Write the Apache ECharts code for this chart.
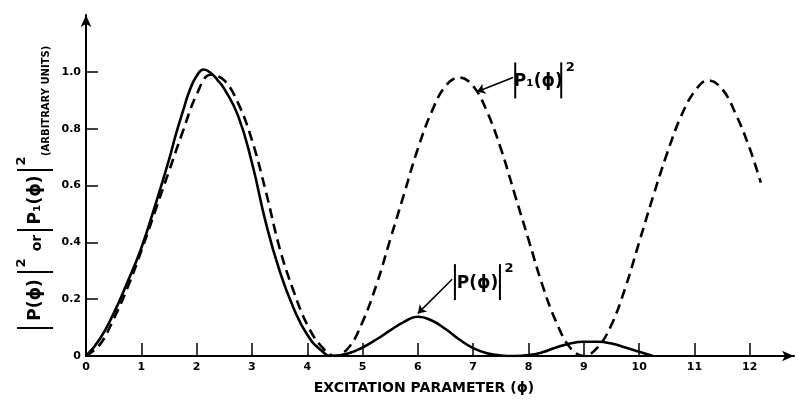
<!DOCTYPE html>
<html>
<head>
<meta charset="utf-8">
<title>Excitation parameter</title>
<script src="https://cdn.jsdelivr.net/npm/echarts@6/dist/echarts.min.js"></script>
<style>
  html, body { margin: 0; padding: 0; background: #fff; }
  #chart { width: 799px; height: 403px; }
</style>
</head>
<body>
<div id="chart"></div>
<script>
// |P(ϕ)|^2 — solid curve
var pPhi = [0, 0.25, 0.5, 0.75, 1.0, 1.25, 1.5, 1.625, 1.75, 1.875, 2.0, 2.125, 2.25, 2.375, 2.5, 2.75, 3.0, 3.25, 3.5, 3.75, 4.0, 4.25, 4.45,
            4.75, 5.0, 5.25, 5.5, 5.75, 6.0, 6.25, 6.5, 6.75, 7.0, 7.25, 7.5, 7.75, 8.0, 8.25, 8.5, 8.75, 9.0, 9.25, 9.5, 9.75, 10.0, 10.25];
var pVal = [0, 0.06, 0.15, 0.26, 0.38, 0.53, 0.69, 0.78, 0.86, 0.935, 0.985, 1.008, 0.997, 0.972, 0.94, 0.845, 0.68, 0.47, 0.30, 0.17, 0.075, 0.02, 0,
            0.01, 0.03, 0.058, 0.09, 0.12, 0.138, 0.125, 0.095, 0.058, 0.028, 0.01, 0.002, 0, 0.003, 0.013, 0.03, 0.044, 0.05, 0.05, 0.044, 0.03, 0.015, 0];

// |P1(ϕ)|^2 — dashed curve
var p1Phi = [0, 0.25, 0.5, 0.75, 1.0, 1.25, 1.5, 1.75, 2.0, 2.25, 2.5, 2.75, 3.0, 3.25, 3.5, 3.75, 4.0, 4.25, 4.5,
             4.75, 5.0, 5.25, 5.5, 5.75, 6.0, 6.25, 6.5, 6.75, 7.0, 7.25, 7.5, 7.75, 8.0, 8.25, 8.5, 8.75, 9.0,
             9.25, 9.5, 9.75, 10.0, 10.25, 10.5, 10.75, 11.0, 11.25, 11.5, 11.75, 12.0, 12.2];
var p1Val = [0, 0.04, 0.13, 0.24, 0.37, 0.51, 0.65, 0.79, 0.92, 0.99, 0.97, 0.89, 0.76, 0.58, 0.38, 0.23, 0.11, 0.035, 0,
             0.03, 0.12, 0.25, 0.41, 0.57, 0.73, 0.86, 0.95, 0.98, 0.95, 0.86, 0.73, 0.57, 0.41, 0.25, 0.12, 0.03, 0,
             0.03, 0.11, 0.24, 0.40, 0.56, 0.71, 0.84, 0.93, 0.97, 0.94, 0.85, 0.73, 0.61];

// ticks
var xTicks = [1, 2, 3, 4, 5, 6, 7, 8, 9, 10, 11, 12];
var xLabels = [0, 1, 2, 3, 4, 5, 6, 7, 8, 9, 10, 11, 12];
var yTicks = [0.2, 0.4, 0.6, 0.8, 1.0];
var yLabels = [0, 0.2, 0.4, 0.6, 0.8, 1.0];

// annotation anchors (data coords)
var p1LabelAt = [7.76, 0.97];
var pLabelAt = [6.67, 0.26];
var p1Arrow = [[7.72, 0.98], [7.07, 0.93]];
var pArrow = [[6.62, 0.27], [6.0, 0.15]];

var FONT = 'DejaVu Sans';

var chartDom = document.getElementById('chart');
var myChart = echarts.init(chartDom);

function toPairs(xs, ys) {
  return xs.map(function (x, i) { return [x, ys[i]]; });
}

var option = {
  backgroundColor: '#fff',
  animation: false,
  grid: { left: 86, right: 5, top: 15, bottom: 47, outerBoundsMode: 'none' },
  xAxis: {
    type: 'value',
    min: 0,
    max: 12.8,
    interval: 1,
    name: 'EXCITATION PARAMETER (ϕ)',
    nameLocation: 'middle',
    nameGap: 25,
    nameTextStyle: { color: '#000', fontFamily: FONT, fontSize: 14, fontWeight: 'bold', padding: [0, 32, 0, 0] },
    axisLine: { lineStyle: { color: '#000', width: 2 }, symbol: ['none', 'arrow'], symbolSize: [8, 12] },
    axisTick: { inside: true, length: 13, lineStyle: { color: '#000', width: 1.5 }, customValues: xTicks },
    axisLabel: { color: '#000', fontFamily: FONT, fontSize: 11, fontWeight: 'bold', margin: 6, customValues: xLabels },
    splitLine: { show: false }
  },
  yAxis: {
    type: 'value',
    min: 0,
    max: 1.2,
    interval: 0.2,
    axisLine: { lineStyle: { color: '#000', width: 2 }, symbol: ['none', 'arrow'], symbolSize: [8, 12] },
    axisTick: { inside: true, length: 12, lineStyle: { color: '#000', width: 1.5 }, customValues: yTicks },
    axisLabel: {
      color: '#000', fontFamily: FONT, fontSize: 11, fontWeight: 'bold', margin: 5,
      customValues: yLabels,
      formatter: function (v) { return v === 0 ? '0' : v.toFixed(1); }
    },
    splitLine: { show: false }
  },
  series: [
    {
      name: '|P(ϕ)|²',
      type: 'line',
      data: toPairs(pPhi, pVal),
      smooth: 0.5,
      showSymbol: false,
      lineStyle: { color: '#000', width: 2.6 },
      markLine: {
        silent: true,
        symbol: ['none', 'arrow'],
        symbolSize: 8,
        label: { show: false },
        lineStyle: { color: '#000', width: 1.5, type: 'solid', curveness: 0.3 },
        data: [[{ coord: pArrow[0] }, { coord: pArrow[1] }]]
      }
    },
    {
      name: '|P1(ϕ)|²',
      type: 'line',
      data: toPairs(p1Phi, p1Val),
      smooth: 0.4,
      showSymbol: false,
      lineStyle: { color: '#000', width: 2.6, type: [10, 6] },
      markLine: {
        silent: true,
        symbol: ['none', 'arrow'],
        symbolSize: 8,
        label: { show: false },
        lineStyle: { color: '#000', width: 1.5, type: 'solid' },
        data: [[{ coord: p1Arrow[0] }, { coord: p1Arrow[1] }]]
      }
    }
  ]
};
option && myChart.setOption(option);

// |...|² label made of bars + text
function absLabel(pos, inner, gap, rotation, extra) {
  var children = [
    { type: 'line', shape: { x1: 0, y1: -18, x2: 0, y2: 18 }, style: { stroke: '#000', lineWidth: 2 } },
    { type: 'text', x: gap / 2, y: 1, style: { text: inner, fill: '#000', font: 'bold 17px ' + FONT, align: 'center', verticalAlign: 'middle' } },
    { type: 'line', shape: { x1: gap, y1: -18, x2: gap, y2: 18 }, style: { stroke: '#000', lineWidth: 2 } },
    { type: 'text', x: gap + 9, y: -13, style: { text: '2', fill: '#000', font: 'bold 13px ' + FONT, align: 'center', verticalAlign: 'middle' } }
  ];
  return { type: 'group', x: pos[0], y: pos[1], rotation: rotation || 0, children: children.concat(extra || []) };
}

var p1Pos = myChart.convertToPixel({ gridIndex: 0 }, p1LabelAt);
var pPos = myChart.convertToPixel({ gridIndex: 0 }, pLabelAt);

// y axis title, rotated
var yTitle = {
  type: 'group', x: 35, y: 328, rotation: Math.PI / 2,
  children: [
    absLabel([0, 0], 'P(ϕ)', 56, 0),
    { type: 'text', x: 85, y: 2, style: { text: 'or', fill: '#000', font: 'bold 14px ' + FONT, align: 'center', verticalAlign: 'middle' } },
    absLabel([98, 0], 'P₁(ϕ)', 60, 0),
    { type: 'text', x: 172, y: 11, style: { text: '(ARBITRARY UNITS)', fill: '#000', font: 'bold 10px ' + FONT, align: 'left', verticalAlign: 'middle' } }
  ]
};

myChart.setOption({
  graphic: [
    absLabel(p1Pos, 'P₁(ϕ)', 46),
    absLabel(pPos, 'P(ϕ)', 45),
    yTitle
  ]
});
</script>
</body>
</html>
